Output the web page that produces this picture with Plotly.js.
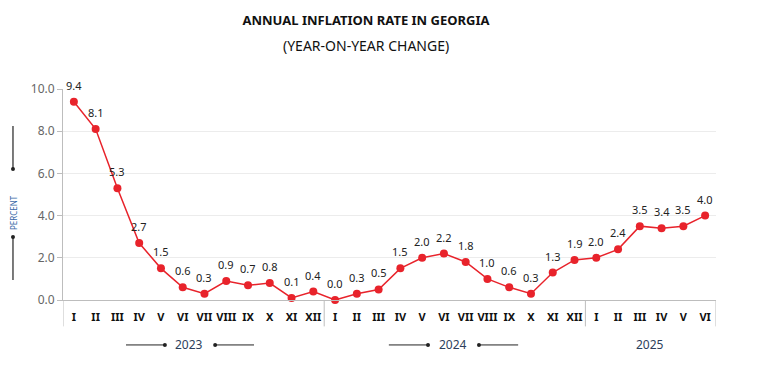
<!DOCTYPE html>
<html>
<head>
<meta charset="utf-8">
<script src="https://cdn.plot.ly/plotly-3.0.1.min.js"></script>
<style>html,body{margin:0;padding:0;background:#fff}#chart{width:761px;height:384px}</style>
</head>
<body>
<div id="chart"></div>
<script>
const months = ["I","II","III","IV","V","VI","VII","VIII","IX","X","XI","XII",
                "I","II","III","IV","V","VI","VII","VIII","IX","X","XI","XII",
                "I","II","III","IV","V","VI"];
const inflation = [9.4,8.1,5.3,2.7,1.5,0.6,0.3,0.9,0.7,0.8,0.1,0.4,
                   0.0,0.3,0.5,1.5,2.0,2.2,1.8,1.0,0.6,0.3,1.3,1.9,
                   2.0,2.4,3.5,3.4,3.5,4.0];
const years = ["2023","2024","2025"];
const yTicks = [0,2,4,6,8,10];

const idx = months.map((m,i)=>i);
const FONT = "Noto Sans, Open Sans, sans-serif";

const trace = {
  x: idx, y: inflation, type: "scatter", mode: "lines+markers",
  line: {color: "#e8232b", width: 1.5},
  marker: {color: "#e8232b", size: 8},
  cliponaxis: false, hoverinfo: "skip"
};

const sepCol = "#bdbdbd";
const shapes = [];
[-0.5, 11.5, 23.5, 29.5].forEach(x=>{
  shapes.push({type:"line", xref:"x", yref:"paper", x0:x, x1:x, y0:0, y1:-0.125, line:{color:sepCol, width:1}});
});
function hline(a,b,y){ shapes.push({type:"line", xref:"paper", yref:"paper", x0:a, x1:b, y0:y, y1:y, line:{color:"#222", width:1}}); }
function vline(x,a,b){ shapes.push({type:"line", xref:"paper", yref:"paper", x0:x, x1:x, y0:a, y1:b, line:{color:"#222", width:1.2}}); }
function dot(x,y){ shapes.push({type:"circle", xref:"paper", yref:"paper", xsizemode:"pixel", ysizemode:"pixel", xanchor:x, yanchor:y, x0:-2, x1:2, y0:-2, y1:2, fillcolor:"#222", line:{width:0}}); }
const yy = -0.213;
hline(0.0965,0.156,yy); dot(0.156,yy); dot(0.233,yy); hline(0.233,0.2925,yy);
hline(0.499,0.559,yy); dot(0.559,yy); dot(0.637,yy); hline(0.637,0.697,yy);
const px = -0.0766;
vline(px,0.621,0.825); dot(px,0.621);
vline(px,0.095,0.299); dot(px,0.299);

const yearCol = "#2d3e5c";
const annotations = [
  {text: years[0], xref:"paper", yref:"paper", x:0.193, y:yy, xanchor:"center", yanchor:"middle", showarrow:false, font:{family:FONT,size:12,color:yearCol}},
  {text: years[1], xref:"paper", yref:"paper", x:0.598, y:yy, xanchor:"center", yanchor:"middle", showarrow:false, font:{family:FONT,size:12,color:yearCol}},
  {text: years[2], xref:"paper", yref:"paper", x:0.899, y:yy, xanchor:"center", yanchor:"middle", showarrow:false, font:{family:FONT,size:12,color:yearCol}},
  {text: "PERCENT", xref:"paper", yref:"paper", x:px, y:0.417, xanchor:"center", yanchor:"middle", textangle:-90, showarrow:false, font:{family:FONT,size:8,color:"#3a6aa8"}},
  {text: "(YEAR-ON-YEAR CHANGE)", xref:"paper", yref:"paper", x:0.464, y:1.204, xanchor:"center", yanchor:"middle", showarrow:false, font:{family:FONT,size:14,color:"#111"}}
];
inflation.forEach((v,i)=>{
  annotations.push({text: v.toFixed(1), xref:"x", yref:"y", x:i, y:v, xanchor:"center", yanchor:"bottom", yshift:7, showarrow:false,
    font:{family:FONT, size:11, color:"#222"}});
});

const layout = {
  width: 761, height: 384,
  margin: {l:63, r:45, t:89, b:84},
  paper_bgcolor: "#fff", plot_bgcolor: "#fff",
  showlegend: false,
  title: {text: "<b>ANNUAL INFLATION RATE IN GEORGIA</b>", x:0.464, xref:"paper", xanchor:"center", y:0.948, yref:"container", yanchor:"middle",
          font:{family:FONT, size:13, color:"#111"}},
  xaxis: {range:[-0.5,29.5], tickvals: idx, ticktext: months, showgrid:false, zeroline:false,
          showline:true, linecolor:sepCol, linewidth:1, ticks:"", fixedrange:true, ticklabelstandoff:7,
          tickfont:{family:FONT, size:11, color:"#111", weight:"bold"}, tickangle:0},
  yaxis: {range:[0,10], tickvals: yTicks, ticktext: yTicks.map(v=>v.toFixed(1)), showgrid:true, gridcolor:"#ececec",
          zeroline:false, showline:true, linecolor:sepCol, linewidth:1, ticks:"outside", ticklen:5, tickcolor:sepCol,
          tickfont:{family:FONT, size:12, color:"#666"}, fixedrange:true},
  shapes: shapes, annotations: annotations
};
Plotly.newPlot("chart", [trace], layout, {displayModeBar:false, staticPlot:true});
</script>
</body>
</html>
